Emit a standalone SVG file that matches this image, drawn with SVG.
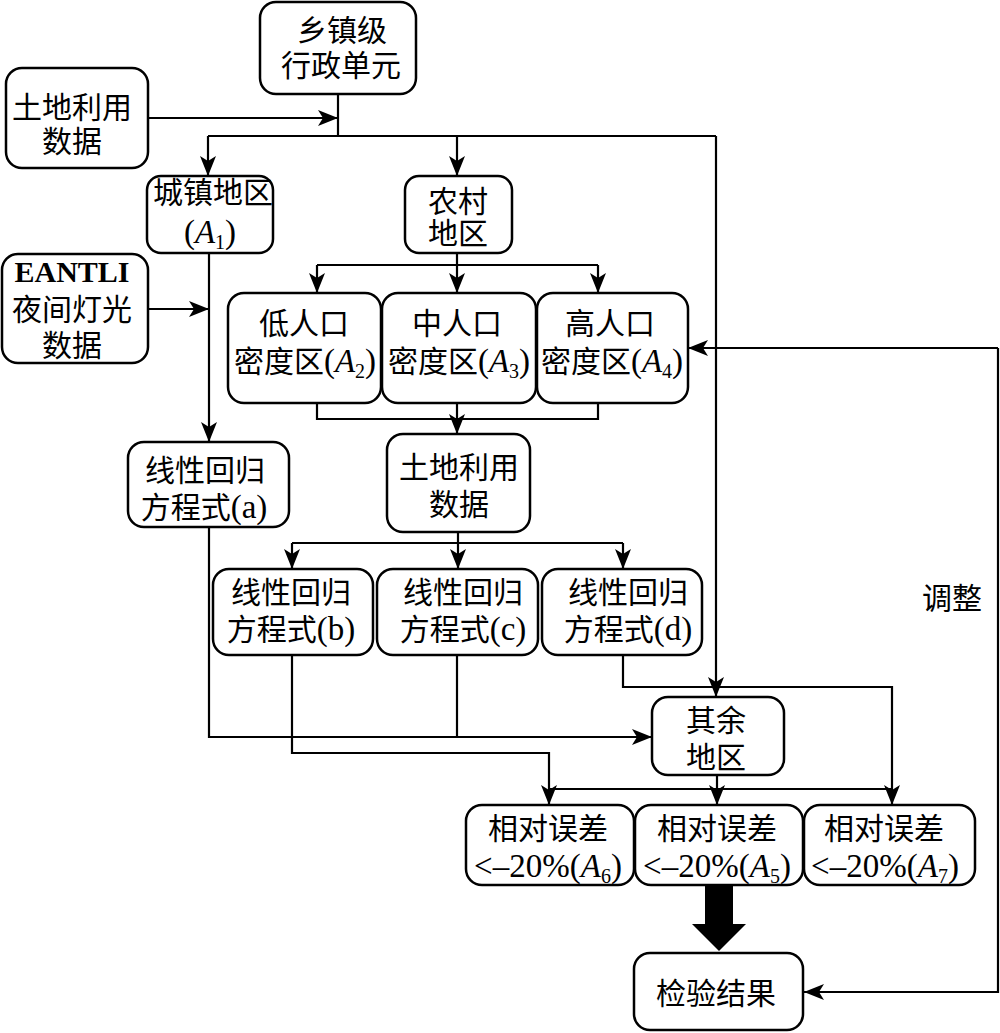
<svg xmlns="http://www.w3.org/2000/svg" width="1000" height="1033" viewBox="0 0 1000 1033">
<style>
.box{fill:#fff;stroke:#000;stroke-width:2.5}
.t{font-family:"Liberation Serif","Noto Sans CJK SC",serif;font-size:30px;fill:#000;text-anchor:middle}
.L{font-size:33px}
.i{font-style:italic}
.s{font-size:20px}
.b{font-weight:bold}
.ln{fill:none;stroke:#000;stroke-width:2.2}
</style>
<defs>
<marker id="ar" viewBox="0 0 20 16" refX="20" refY="8" markerWidth="20" markerHeight="16" orient="auto" markerUnits="userSpaceOnUse">
<path d="M0,0 L20,8 L0,16 L5,8 Z" fill="#000"/>
</marker>
</defs>
<rect width="1000" height="1033" fill="#fff"/>
<g id="connectors">
<path class="ln" d="M338,94 V136"/>
<path class="ln" d="M148,118 H338" marker-end="url(#ar)"/>
<path class="ln" d="M208,136 H716"/>
<path class="ln" d="M208,136 V176" marker-end="url(#ar)"/>
<path class="ln" d="M457,136 V176" marker-end="url(#ar)"/>
<path class="ln" d="M716,136 V697" marker-end="url(#ar)"/>
<path class="ln" d="M209,253 V442" marker-end="url(#ar)"/>
<path class="ln" d="M148,309 H209" marker-end="url(#ar)"/>
<path class="ln" d="M457,253 V265 M317,265 H598"/>
<path class="ln" d="M317,265 V293" marker-end="url(#ar)"/>
<path class="ln" d="M457,265 V293" marker-end="url(#ar)"/>
<path class="ln" d="M598,265 V293" marker-end="url(#ar)"/>
<path class="ln" d="M317,403 V419 H598 V403"/>
<path class="ln" d="M457,403 V434" marker-end="url(#ar)"/>
<path class="ln" d="M458,532 V543 M292,543 H623"/>
<path class="ln" d="M292,543 V569" marker-end="url(#ar)"/>
<path class="ln" d="M458,543 V569" marker-end="url(#ar)"/>
<path class="ln" d="M623,543 V569" marker-end="url(#ar)"/>
<path class="ln" d="M209,527 V737 H652" marker-end="url(#ar)"/>
<path class="ln" d="M457,655 V737"/>
<path class="ln" d="M292,655 V753 H549 V805" marker-end="url(#ar)"/>
<path class="ln" d="M623,655 V687 H892 V805" marker-end="url(#ar)"/>
<path class="ln" d="M717,775 V805" marker-end="url(#ar)"/>
<path class="ln" d="M549,789 H892"/>
<path class="ln" d="M998,348 H688" marker-end="url(#ar)"/>
<path class="ln" d="M998,348 V992 H804" marker-end="url(#ar)"/>
<polygon points="705,885 733,885 733,924 746,924 719,951 692,924 705,924" fill="#000"/>
</g>
<g id="n_top"><rect class="box" x="260" y="2" width="156" height="92" rx="16"/>
<text class="t" x="342" y="41">乡镇级</text><text class="t" x="341" y="76">行政单元</text></g>
<g id="n_land1"><rect class="box" x="6" y="68" width="142" height="100" rx="16"/>
<text class="t" x="72" y="118">土地利用</text><text class="t" x="72" y="152">数据</text></g>
<g id="n_urban"><rect class="box" x="147" y="176" width="126" height="77" rx="14"/>
<text class="t" x="213" y="203">城镇地区</text>
<text class="t L" x="210" y="243">(<tspan class="i">A</tspan><tspan class="s" dy="6">1</tspan><tspan dy="-6">)</tspan></text></g>
<g id="n_rural"><rect class="box" x="405" y="176" width="107" height="77" rx="14"/>
<text class="t" x="458" y="212">农村</text><text class="t" x="458" y="244">地区</text></g>
<g id="n_eantli"><rect class="box" x="2" y="254" width="146" height="109" rx="16"/>
<text class="t b" x="72" y="282">EANTLI</text><text class="t" x="72" y="320">夜间灯光</text><text class="t" x="72" y="356">数据</text></g>
<g id="n_a"><rect class="box" x="128" y="442" width="161" height="85" rx="16"/>
<text class="t" x="205" y="481">线性回归</text><text class="t" x="204" y="518">方程式<tspan class="L">(a)</tspan></text></g>
<g id="n_low"><rect class="box" x="228" y="293" width="153" height="110" rx="16"/>
<text class="t" x="304" y="334">低人口</text>
<text class="t" x="305" y="372">密度区<tspan class="L">(<tspan class="i">A</tspan></tspan><tspan class="s" dy="6">2</tspan><tspan class="L" dy="-6">)</tspan></text></g>
<g id="n_mid"><rect class="box" x="382" y="293" width="154" height="110" rx="16"/>
<text class="t" x="457" y="334">中人口</text>
<text class="t" x="459" y="372">密度区<tspan class="L">(<tspan class="i">A</tspan></tspan><tspan class="s" dy="6">3</tspan><tspan class="L" dy="-6">)</tspan></text></g>
<g id="n_high"><rect class="box" x="537" y="293" width="151" height="110" rx="16"/>
<text class="t" x="610" y="334">高人口</text>
<text class="t" x="612" y="372">密度区<tspan class="L">(<tspan class="i">A</tspan></tspan><tspan class="s" dy="6">4</tspan><tspan class="L" dy="-6">)</tspan></text></g>
<g id="n_land2"><rect class="box" x="387" y="434" width="143" height="98" rx="16"/>
<text class="t" x="459" y="478">土地利用</text><text class="t" x="459" y="515">数据</text></g>
<g id="n_b"><rect class="box" x="213" y="569" width="160" height="86" rx="16"/>
<text class="t" x="291" y="603">线性回归</text><text class="t" x="291" y="640">方程式<tspan class="L">(b)</tspan></text></g>
<g id="n_c"><rect class="box" x="377" y="569" width="161" height="86" rx="16"/>
<text class="t" x="463" y="603">线性回归</text><text class="t" x="463" y="640">方程式<tspan class="L">(c)</tspan></text></g>
<g id="n_d"><rect class="box" x="542" y="569" width="160" height="86" rx="16"/>
<text class="t" x="628" y="603">线性回归</text><text class="t" x="628" y="640">方程式<tspan class="L">(d)</tspan></text></g>
<g id="n_rest"><rect class="box" x="652" y="697" width="132" height="78" rx="16"/>
<text class="t" x="716" y="731">其余</text><text class="t" x="716" y="768">地区</text></g>
<g id="n_a6"><rect class="box" x="466" y="805" width="168" height="80" rx="16"/>
<text class="t" x="548" y="839">相对误差</text>
<text class="t L" x="548" y="877">&lt;–20%(<tspan class="i">A</tspan><tspan class="s" dy="6">6</tspan><tspan dy="-6">)</tspan></text></g>
<g id="n_a5"><rect class="box" x="635" y="805" width="168" height="80" rx="16"/>
<text class="t" x="717" y="839">相对误差</text>
<text class="t L" x="717" y="877">&lt;–20%(<tspan class="i">A</tspan><tspan class="s" dy="6">5</tspan><tspan dy="-6">)</tspan></text></g>
<g id="n_a7"><rect class="box" x="804" y="805" width="171" height="80" rx="16"/>
<text class="t" x="884" y="839">相对误差</text>
<text class="t L" x="885" y="877">&lt;–20%(<tspan class="i">A</tspan><tspan class="s" dy="6">7</tspan><tspan dy="-6">)</tspan></text></g>
<g id="n_result"><rect class="box" x="634" y="953" width="169" height="77" rx="16"/>
<text class="t" x="716" y="1004">检验结果</text></g>
<g id="l_adjust"><text class="t" x="952" y="609">调整</text></g>
</svg>
